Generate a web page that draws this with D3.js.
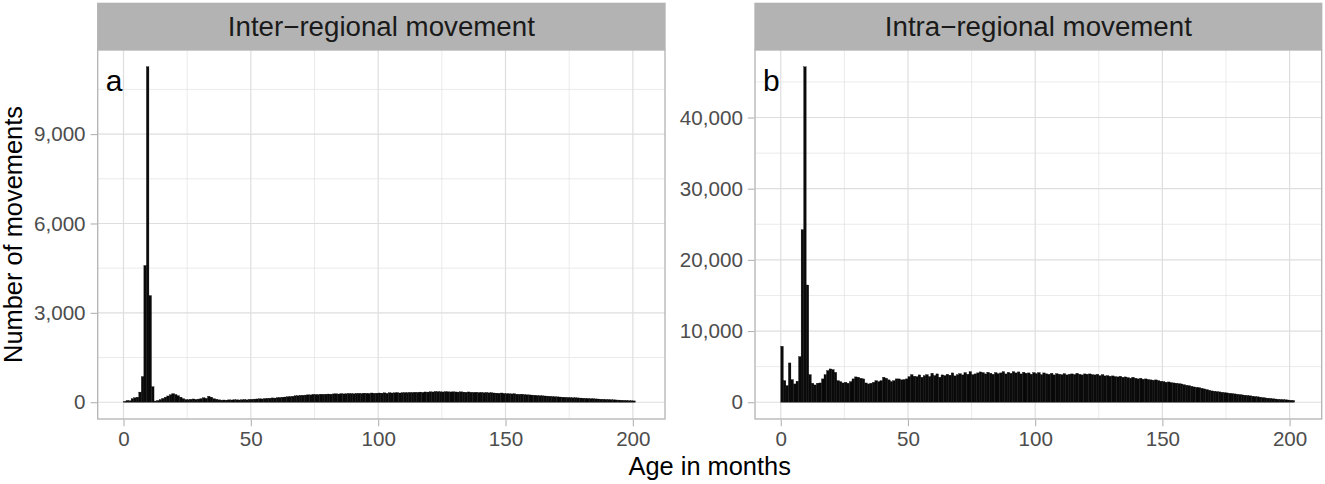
<!DOCTYPE html>
<html>
<head>
<meta charset="utf-8">
<script src="https://cdn.jsdelivr.net/npm/d3@7"></script>
<style>
  html, body { margin: 0; padding: 0; background: #fff; }
  svg text { font-family: "Liberation Sans", Arial, Helvetica, sans-serif; }
</style>
</head>
<body>
<svg id="chart" width="1325" height="484"></svg>
<script>
// ---- Data (months 0..N, count of movements per month of age) ----
const panelTitles = ["Inter\u2212regional movement", "Intra\u2212regional movement"];
const panelTags = ["a", "b"];
const xTicks = [0, 50, 100, 150, 200];
const xDataRange = [0, 202.5];
const yTicksInter = [0, 3000, 6000, 9000];
const yTicksIntra = [0, 10000, 20000, 30000, 40000];

const interRegional = [
  30, 60, 50, 120, 150, 170, 340, 860, 4590, 11260,
  3580, 520, 40, 60, 90, 130, 170, 210, 250, 290,
  260, 220, 170, 120, 90, 85, 100, 110, 95, 105,
  120, 150, 130, 200, 170, 120, 100, 80, 70, 75,
  70, 80, 75, 85, 80, 75, 85, 90, 80, 95,
  100, 105, 110, 115, 110, 125, 130, 135, 145, 140,
  155, 160, 170, 175, 185, 190, 200, 215, 220, 230,
  235, 240, 250, 245, 265, 260, 255, 270, 265, 270,
  275, 270, 280, 285, 275, 290, 280, 285, 295, 290,
  285, 295, 300, 290, 305, 300, 295, 310, 300, 305,
  310, 305, 315, 300, 320, 310, 315, 325, 310, 320,
  325, 320, 330, 325, 335, 330, 340, 330, 345, 340,
  350, 345, 360, 355, 350, 345, 355, 350, 345, 350,
  345, 340, 350, 340, 335, 345, 335, 330, 335, 325,
  330, 320, 325, 315, 320, 310, 305, 300, 310, 295,
  290, 285, 280, 285, 270, 265, 270, 255, 250, 245,
  240, 235, 225, 220, 215, 210, 205, 200, 190, 185,
  180, 175, 170, 165, 160, 155, 150, 150, 145, 140,
  135, 130, 125, 120, 118, 112, 108, 102, 98, 94,
  90, 85, 80, 76, 72, 68, 64, 60, 56, 50,
  45
];

const intraRegional = [
  7860, 3040, 2340, 5520, 3180, 2570, 2950, 6410, 24240, 47130,
  16470, 3880, 2670, 2430, 2670, 2710, 3280, 3880, 4450, 4680,
  4590, 4200, 3040, 2900, 2710, 2800, 2670, 2900, 3280, 3560,
  3510, 3370, 3280, 2710, 2570, 2670, 2800, 3040, 2900, 3040,
  3510, 3370, 3140, 2900, 3040, 3280, 3280, 3140, 3190, 3280,
  3600, 3880, 3650, 3600, 3840, 3510, 3740, 3880, 3600, 4070,
  3740, 3980, 3510, 3840, 3740, 3930, 3800, 4120, 3700, 3880,
  4020, 3840, 4170, 3930, 4300, 3880, 3980, 4120, 4260, 4170,
  3980, 4210, 4070, 3930, 4170, 4020, 4120, 4300, 3980, 4210,
  4070, 4300, 4120, 4260, 3980, 4210, 4070, 4120, 3930, 4170,
  4020, 4170, 3880, 4120, 3980, 3930, 4070, 3840, 4020, 3930,
  3880, 4020, 3840, 3930, 3980, 3880, 4070, 3930, 3840, 3980,
  3930, 3980, 3880, 3840, 3930, 3740, 3880, 3700, 3740, 3650,
  3700, 3600, 3560, 3650, 3510, 3560, 3470, 3370, 3510, 3370,
  3280, 3370, 3230, 3280, 3190, 3140, 3090, 3140, 3040, 2950,
  2900, 2810, 2850, 2760, 2710, 2670, 2620, 2570, 2470, 2380,
  2340, 2240, 2150, 2100, 2050, 1960, 1870, 1780, 1680, 1590,
  1540, 1500, 1450, 1400, 1350, 1310, 1260, 1220, 1170, 1120,
  1080, 1030, 990, 940, 900, 850, 800, 760, 710, 660,
  610, 570, 530, 490, 450, 420, 390, 375, 340, 310,
  280, 250
];

const panels = [
  { title: panelTitles[0], tag: panelTags[0], values: interRegional, yTicks: yTicksInter, left: 97.7, right: 665 },
  { title: panelTitles[1], tag: panelTags[1], values: intraRegional, yTicks: yTicksIntra, left: 755, right: 1321.7 }
];

const svg = d3.select("#chart");
const stripTop = 2.7, panelTop = 50, panelBottom = 419;
const GRID = "#DEDEDE", BORDER = "#B3B3B3", TICKTXT = "#4D4D4D";

panels.forEach(p => {
  const xPad = (xDataRange[1] - xDataRange[0]) * 0.05;
  const x = d3.scaleLinear().domain([xDataRange[0] - xPad, xDataRange[1] + xPad]).range([p.left, p.right]);
  const yMax = d3.max(p.values);
  const y = d3.scaleLinear().domain([-0.05 * yMax, 1.05 * yMax]).range([panelBottom, panelTop]);

  const g = svg.append("g");

  g.append("rect").attr("x", p.left).attr("y", panelTop)
    .attr("width", p.right - p.left).attr("height", panelBottom - panelTop)
    .attr("fill", "#fff");

  // minor grid
  const xMinor = [];
  for (let i = 0; i < xTicks.length - 1; i++) xMinor.push((xTicks[i] + xTicks[i + 1]) / 2);
  const yStep = p.yTicks[1] - p.yTicks[0];
  const yMinor = [];
  for (let v = yStep / 2; v < 1.05 * yMax; v += yStep) yMinor.push(v);

  g.selectAll(".xminor").data(xMinor).enter().append("line")
    .attr("x1", d => x(d)).attr("x2", d => x(d))
    .attr("y1", panelTop).attr("y2", panelBottom)
    .attr("stroke", GRID).attr("stroke-width", 0.6);
  g.selectAll(".yminor").data(yMinor).enter().append("line")
    .attr("x1", p.left).attr("x2", p.right)
    .attr("y1", d => y(d)).attr("y2", d => y(d))
    .attr("stroke", GRID).attr("stroke-width", 0.6);
  // major grid
  g.selectAll(".xmajor").data(xTicks).enter().append("line")
    .attr("x1", d => x(d)).attr("x2", d => x(d))
    .attr("y1", panelTop).attr("y2", panelBottom)
    .attr("stroke", GRID).attr("stroke-width", 1.2);
  g.selectAll(".ymajor").data(p.yTicks).enter().append("line")
    .attr("x1", p.left).attr("x2", p.right)
    .attr("y1", d => y(d)).attr("y2", d => y(d))
    .attr("stroke", GRID).attr("stroke-width", 1.2);

  // bars: bin m spans [m, m+1)
  g.selectAll(".bar").data(p.values).enter().append("rect")
    .attr("x", (d, i) => x(i))
    .attr("width", (d, i) => x(i + 1) - x(i))
    .attr("y", d => y(d))
    .attr("height", d => y(0) - y(d))
    .attr("fill", "#0a0a0a")
    .attr("stroke", "#000")
    .attr("stroke-width", 0.3);

  // panel border
  g.append("rect").attr("x", p.left).attr("y", panelTop)
    .attr("width", p.right - p.left).attr("height", panelBottom - panelTop)
    .attr("fill", "none").attr("stroke", BORDER).attr("stroke-width", 1.3);

  // strip
  g.append("rect").attr("x", p.left - 0.65).attr("y", stripTop)
    .attr("width", p.right - p.left + 1.3).attr("height", panelTop - stripTop)
    .attr("fill", "#B3B3B3");
  g.append("text").attr("x", (p.left + p.right) / 2).attr("y", (stripTop + panelTop) / 2)
    .attr("dy", "0.36em").attr("text-anchor", "middle")
    .attr("font-size", 27.7).attr("fill", "#1a1a1a").text(p.title);

  // tag
  g.append("text").attr("x", p.left + 8).attr("y", 91)
    .attr("font-size", 30).attr("fill", "#000").text(p.tag);

  // axes
  const yAxis = d3.axisLeft(y).tickValues(p.yTicks).tickFormat(d3.format(",")).tickSize(6.5).tickPadding(5).tickSizeOuter(0);
  const ya = g.append("g").attr("transform", `translate(${p.left - 0.65},0)`).call(yAxis);
  ya.select(".domain").remove();
  ya.selectAll("line").attr("stroke", BORDER).attr("stroke-width", 1.1);
  ya.selectAll("text").attr("font-size", 20.6).attr("fill", TICKTXT)
    .attr("font-family", "Liberation Sans, Arial, sans-serif");

  const xAxis = d3.axisBottom(x).tickValues(xTicks).tickFormat(d3.format("d")).tickSize(6.5).tickPadding(5).tickSizeOuter(0);
  const xa = g.append("g").attr("transform", `translate(0,${panelBottom + 0.65})`).call(xAxis);
  xa.select(".domain").remove();
  xa.selectAll("line").attr("stroke", BORDER).attr("stroke-width", 1.1);
  xa.selectAll("text").attr("font-size", 20.6).attr("fill", TICKTXT)
    .attr("font-family", "Liberation Sans, Arial, sans-serif");
});

// axis titles
svg.append("text").attr("x", (97.7 + 1321.7) / 2).attr("y", 475)
  .attr("text-anchor", "middle").attr("font-size", 25.4).attr("fill", "#000")
  .text("Age in months");
svg.append("text").attr("transform", `translate(22,${(panelTop + panelBottom) / 2}) rotate(-90)`)
  .attr("text-anchor", "middle").attr("font-size", 25.4).attr("fill", "#000")
  .text("Number of movements");
</script>
</body>
</html>
